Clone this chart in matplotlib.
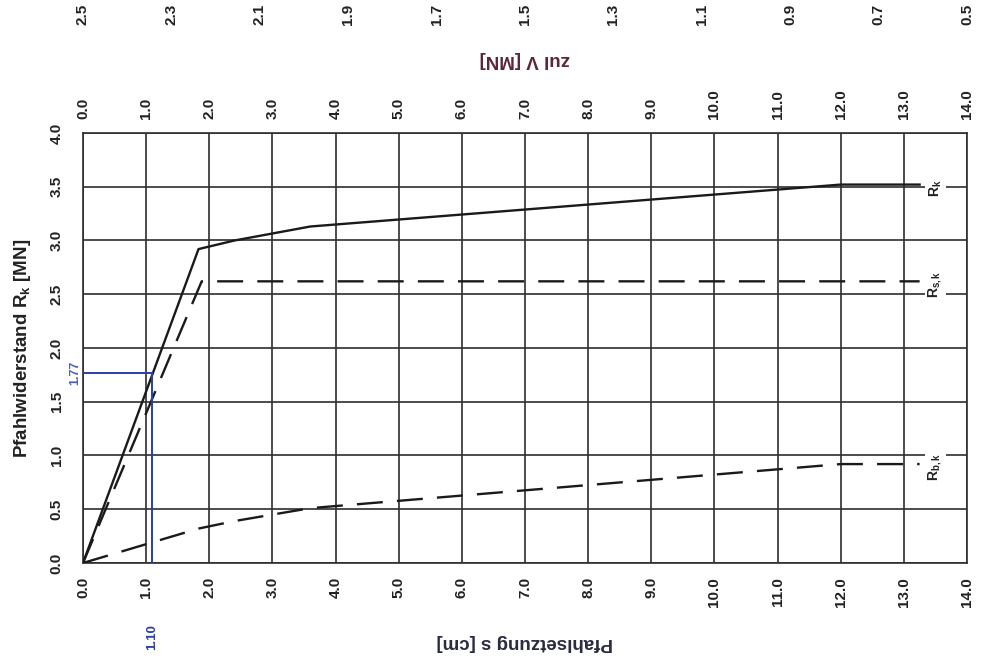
import matplotlib
matplotlib.use("Agg")
import matplotlib.pyplot as plt
import numpy as np

plt.rcParams["font.family"] = ["Liberation Sans", "DejaVu Sans"]
plt.rcParams["font.weight"] = "bold"
plt.rcParams["axes.labelweight"] = "bold"
plt.rcParams["mathtext.fontset"] = "custom"
plt.rcParams["mathtext.rm"] = "Liberation Sans:bold"
plt.rcParams["mathtext.bf"] = "Liberation Sans:bold"
plt.rcParams["mathtext.it"] = "Liberation Sans:bold"

# settlement s [cm] vs. pile resistance [MN]
s_rk = [0.0, 1.83, 2.4, 3.6, 12.0, 13.25]
r_k = [0.0, 2.92, 3.00, 3.13, 3.52, 3.52]
s_rsk = [0.0, 1.88, 13.25]
r_sk = [0.0, 2.62, 2.62]
s_rbk = [0.0, 1.83, 2.4, 3.6, 12.0, 13.25]
r_bk = [0.0, 0.32, 0.39, 0.51, 0.92, 0.92]

s_ticks = np.arange(0, 14.01, 1.0)
r_ticks = np.arange(0, 4.01, 0.5)
zulv_ticks = [2.5, 2.3, 2.1, 1.9, 1.7, 1.5, 1.3, 1.1, 0.9, 0.7, 0.5]

curve_names = [r"R$_{\mathbf{k}}$", r"R$_{\mathbf{s,k}}$", r"R$_{\mathbf{b,k}}$"]

# reading for the design point (blue)
s_read = 1.10
r_read = 1.77

GRID = "#2e2e2e"
BLUE = "#2a3fa6"
TXT = "#222222"


def fmt(v):
    return f"{v:.1f}"


fig = plt.figure(figsize=(9.82, 6.58), dpi=100)
ax = fig.add_axes([0.0845, 0.1444, 0.9002, 0.6535])

ax.set_xlim(0, 14)
ax.set_ylim(0, 4)
ax.set_xticks(s_ticks)
ax.set_yticks(r_ticks)
ax.set_xticklabels([fmt(v) for v in s_ticks], rotation=90)
ax.set_yticklabels([fmt(v) for v in r_ticks], rotation=90, va="center")
ax.grid(True, color=GRID, linewidth=1.2)
ax.set_axisbelow(True)
for sp in ax.spines.values():
    sp.set_color(GRID)
    sp.set_linewidth(1.2)

ax.tick_params(axis="x", length=0, labelsize=11, colors=TXT, top=True,
               labeltop=True, pad=10)
ax.tick_params(axis="y", length=0, labelsize=11, colors=TXT, pad=14)
for t in ax.xaxis.get_major_ticks():
    t.label2.set_rotation(90)

# curves
ax.plot(s_rk, r_k, color="#1a1a1a", linewidth=1.7, zorder=4)
ax.plot(s_rsk, r_sk, color="#1a1a1a", linewidth=1.7, dashes=(11, 6), zorder=4)
ax.plot(s_rbk, r_bk, color="#1a1a1a", linewidth=1.7, dashes=(11, 6), zorder=4)

# curve labels at the right end
for name, yv in zip(curve_names, [r_k[-1], r_sk[-1], r_bk[-1]]):
    ax.text(13.5, yv - 0.03, name, rotation=90, ha="center", va="center",
            fontsize=10, color=TXT, zorder=5,
            bbox=dict(fc="white", ec="none", pad=1.5))

# blue reading lines
ax.plot([s_read, s_read], [0, r_read], color=BLUE, linewidth=1.4, zorder=5)
ax.plot([0, s_read], [r_read, r_read], color=BLUE, linewidth=1.4, zorder=5)
ax.text(-0.13, r_read, f"{r_read:.2f}", rotation=90, ha="center", va="center",
        fontsize=9, color="#4a5fc0", clip_on=False)
ax.text(s_read, -0.69, f"{s_read:.2f}", rotation=90, ha="center", va="center",
        fontsize=9.5, color=BLUE, clip_on=False)

ax.set_ylabel("Pfahlwiderstand R$_{\\mathbf{k}}$ [MN]", fontsize=13.5,
              color=TXT, labelpad=12)
ax.set_xlabel("Pfahlsetzung s [cm]", fontsize=13.5, color="#2a2a40",
              rotation=180, labelpad=20)

# allowable load axis on top
sec = ax.secondary_xaxis("top", functions=(lambda s: 2.5 - s / 7.0,
                                           lambda v: (2.5 - v) * 7.0))
sec.set_xticks(zulv_ticks)
sec.set_xticklabels([fmt(v) for v in zulv_ticks], rotation=90)
sec.tick_params(length=0, pad=78, labelsize=11, colors=TXT)
sec.spines["top"].set_visible(False)

ax.text(0.5, 1.17, "zul V [MN]", transform=ax.transAxes, rotation=180,
        ha="center", va="center", fontsize=13.5, fontweight="bold",
        color="#5a2638")

fig.savefig("out.png", dpi=100)
